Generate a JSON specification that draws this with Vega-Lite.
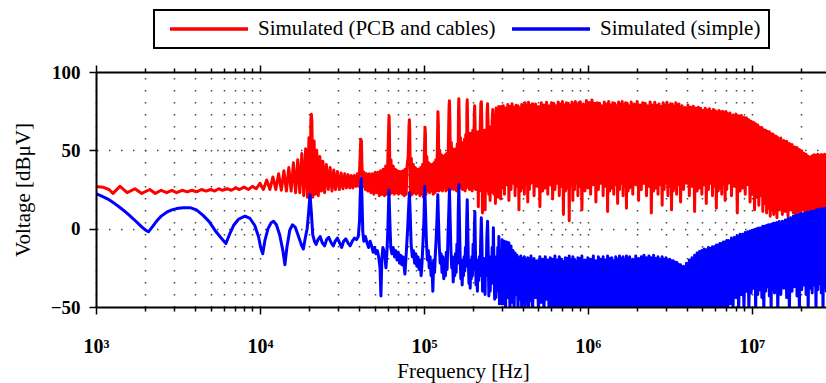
{
"$schema": "https://vega.github.io/schema/vega-lite/v6.json",
"width": 734, "height": 235,
"autosize": {"type": "none"},
"padding": {"left": 96, "top": 72, "right": 0, "bottom": 76},
"background": "white",
"datasets": {
"red": [
{"f":1,"v":27},{"f":1.1,"v":26.5},{"f":1.2,"v":25},{"f":1.27,"v":22.5},{"f":1.4,"v":27},{"f":1.55,"v":23},{"f":1.73,"v":25.5},{"f":1.9,"v":22.5},{"f":2.13,"v":25},{"f":2.3,"v":22.5},{"f":2.5,"v":24.5},{"f":2.7,"v":23},{"f":2.9,"v":24.5},{"f":3.1,"v":23},{"f":3.35,"v":24.5},{"f":3.6,"v":23.5},{"f":3.85,"v":24.5},{"f":4.1,"v":23.5},{"f":4.4,"v":25},{"f":4.7,"v":24},{"f":5,"v":25},{"f":5.3,"v":24},{"f":5.6,"v":25.5},{"f":5.9,"v":24.5},{"f":6.3,"v":25.5},{"f":6.7,"v":24.5},{"f":7.1,"v":26},{"f":7.5,"v":25},{"f":8,"v":26.5},{"f":8.5,"v":25},{"f":9,"v":27},{"f":9.5,"v":25.5},
{"f":10,"v":29},{"f":10.5,"v":25},{"f":11,"v":31},{"f":11.5,"v":25},{"f":12,"v":33},{"f":12.5,"v":25},{"f":13,"v":35},{"f":13.5,"v":24.5},{"f":14,"v":37},{"f":14.5,"v":24},{"f":15,"v":39},{"f":15.5,"v":24},{"f":16,"v":42},{"f":16.5,"v":23},{"f":17,"v":44},{"f":17.5,"v":23},{"f":18,"v":48},{"f":18.5,"v":21},{"f":19,"v":51},{"f":19.5,"v":20},{"f":19.9,"v":58},{"f":20.2,"v":19},{"f":20.45,"v":70},{"f":20.6,"v":73},{"f":20.75,"v":68},{"f":21,"v":20},{"f":21.4,"v":56},{"f":21.8,"v":22},{"f":22.2,"v":50},{"f":22.7,"v":21},{"f":23.2,"v":46},{"f":23.7,"v":24},{"f":24.2,"v":43},{"f":24.8,"v":23},{"f":25.4,"v":41},{"f":26.1,"v":25},{"f":26.8,"v":39},{"f":27.5,"v":24},{"f":28.2,"v":37.5},{"f":28.9,"v":25},{"f":29.7,"v":36.5},{"f":30.5,"v":25},{"f":31.3,"v":35.5},{"f":32.1,"v":25.5},{"f":32.9,"v":35},{"f":33.7,"v":26},{"f":34.5,"v":34.5},{"f":35.3,"v":26},{"f":36.1,"v":34},{"f":36.9,"v":26},{"f":37.7,"v":34},{"f":38.5,"v":27},{"f":39.3,"v":35},{"f":40.1,"v":27},{"f":40.7,"v":42},{"f":41.2,"v":57},{"f":41.6,"v":56},{"f":41.9,"v":40},{"f":42.4,"v":27},{"f":43.1,"v":36},{"f":43.9,"v":25},{"f":44.7,"v":35},
{"f":45.5,"v":24},{"f":46.5,"v":35},{"f":47.5,"v":23},{"f":48.5,"v":35},{"f":49.5,"v":22},{"f":50.5,"v":36},{"f":51.5,"v":23},{"f":52.5,"v":36},{"f":53.5,"v":21},{"f":54.5,"v":37},{"f":55.5,"v":22},{"f":56.5,"v":38},{"f":57.5,"v":21},{"f":58.5,"v":40},{"f":59.5,"v":22},{"f":60.3,"v":46},{"f":61,"v":66},{"f":61.3,"v":72},{"f":61.6,"v":64},{"f":62.2,"v":22},{"f":63,"v":44},{"f":64,"v":23},{"f":65,"v":40},{"f":66,"v":22},{"f":67,"v":38},{"f":68,"v":23},{"f":69,"v":37},{"f":70,"v":22},{"f":71,"v":36.5},{"f":72,"v":23},{"f":73,"v":36.5},{"f":74,"v":22},{"f":75,"v":37},{"f":76,"v":21},{"f":77,"v":38},{"f":78,"v":22},{"f":79,"v":40},{"f":80.2,"v":46},{"f":81.2,"v":66},{"f":81.6,"v":69.5},{"f":82,"v":62},{"f":82.8,"v":21},{"f":83.8,"v":45},{"f":85,"v":22},{"f":86.2,"v":41},{"f":87.4,"v":23},{"f":88.6,"v":39},{"f":89.8,"v":22},{"f":91,"v":38},{"f":92.2,"v":23},{"f":93.4,"v":38},{"f":94.6,"v":21},{"f":95.8,"v":39},{"f":97,"v":22},{"f":98.2,"v":41},{"f":99.4,"v":20},{"f":100.6,"v":47},{"f":101.6,"v":64.7},{"f":102.2,"v":60},{"f":103,"v":22},{"f":104.2,"v":46},{"f":105.6,"v":24},{"f":107,"v":42},{"f":108.4,"v":23},{"f":109.8,"v":41},{"f":111.2,"v":24},{"f":112.6,"v":41},{"f":114,"v":22},{"f":115.4,"v":42},{"f":116.8,"v":23},{"f":118.2,"v":44},{"f":119.6,"v":24},{"f":120.8,"v":52},{"f":121.8,"v":74.7},{"f":122.6,"v":66},{"f":123.6,"v":24},{"f":125,"v":50},{"f":126.6,"v":25},{"f":128.2,"v":47},{"f":129.8,"v":24},{"f":131.4,"v":46},{"f":133,"v":26},{"f":134.6,"v":47},{"f":136.2,"v":24},{"f":137.8,"v":48},{"f":139.4,"v":25},{"f":141,"v":54},{"f":142.4,"v":78},{"f":143.2,"v":81.7},{"f":144.2,"v":68},{"f":145.4,"v":25},{"f":147,"v":55},{"f":148.6,"v":26},{"f":150.2,"v":51},{"f":151.8,"v":25},{"f":153.4,"v":50},{"f":155,"v":27},{"f":156.6,"v":51},{"f":158.2,"v":24},{"f":159.8,"v":54},{"f":161.4,"v":26},{"f":162.6,"v":76},{"f":163.4,"v":83},{"f":164.4,"v":70},{"f":165.6,"v":26},{"f":167.2,"v":58},{"f":168.8,"v":27},{"f":170.4,"v":55},{"f":172,"v":25},{"f":173.6,"v":55},{"f":175.2,"v":27},{"f":176.8,"v":57},{"f":178.4,"v":24},{"f":180,"v":60},{"f":181.8,"v":26},{"f":183,"v":78},{"f":183.8,"v":82.3},{"f":184.8,"v":70},{"f":186.2,"v":27},{"f":188,"v":61},{"f":189.8,"v":25},{"f":191.6,"v":60},{"f":193.4,"v":27},{"f":195.2,"v":61},{"f":197,"v":24},{"f":198.8,"v":63},{"f":200.8,"v":26},{"f":203,"v":74},{"f":204,"v":78.5},{"f":205.2,"v":68},{"f":206.8,"v":25},{"f":208.8,"v":62},{"f":210.8,"v":26},{"f":212.8,"v":61},{"f":214.8,"v":14},{"f":216.8,"v":62},{"f":218.8,"v":24},{"f":220.8,"v":66},{"f":222.6,"v":80},{"f":224.2,"v":81},{"f":225.8,"v":66},{"f":227.6,"v":10},{"f":229.8,"v":63},{"f":232,"v":24},{"f":234.2,"v":62},{"f":236.4,"v":12},{"f":238.6,"v":63},{"f":240.8,"v":24},{"f":242.8,"v":74},{"f":244.6,"v":79.8},{"f":246.4,"v":66},{"f":248.6,"v":22},{"f":251,"v":64},{"f":253.4,"v":18},{"f":255.8,"v":65},{"f":258.2,"v":23},{"f":260.6,"v":68},{"f":263,"v":76},{"f":265.4,"v":70},{"f":268,"v":22},{"f":270.6,"v":70},{"f":273.2,"v":16},{"f":275.8,"v":77},{"f":278.4,"v":24},{"f":281,"v":72},{"f":283.6,"v":20},{"f":286.2,"v":78},{"f":288.8,"v":23},{"f":291.4,"v":74},{"f":294,"v":19},{"f":296.8,"v":78},
{"f":300,"v":26},{"f":305,"v":78.5},{"f":310,"v":22},{"f":315,"v":77},{"f":320,"v":28},{"f":325,"v":79.3},{"f":330,"v":18},{"f":335,"v":78},{"f":340,"v":25},{"f":345,"v":79.7},{"f":350,"v":29},{"f":355,"v":77.5},{"f":360,"v":21},{"f":365,"v":78.8},{"f":370,"v":27},{"f":375,"v":78.5},{"f":380,"v":12},{"f":385,"v":77},{"f":390,"v":24},{"f":395,"v":79.3},{"f":400,"v":26},{"f":405,"v":79},{"f":410,"v":22},{"f":415,"v":80.3},{"f":420,"v":28},{"f":425,"v":78.5},{"f":430,"v":17},{"f":435,"v":80.7},{"f":440,"v":25},{"f":445,"v":79},
{"f":450,"v":29},{"f":460,"v":79.8},{"f":470,"v":21},{"f":480,"v":79.5},{"f":490,"v":27},{"f":500,"v":78},{"f":510,"v":14},{"f":520,"v":80.3},{"f":530,"v":24},{"f":540,"v":79},{"f":550,"v":26},{"f":560,"v":80.7},{"f":570,"v":22},{"f":580,"v":78.5},{"f":590,"v":28},{"f":600,"v":80.3},
{"f":610,"v":19},{"f":620,"v":80},{"f":630,"v":25},{"f":640,"v":78.5},{"f":650,"v":29},{"f":660,"v":80.8},{"f":670,"v":21},{"f":680,"v":79.5},{"f":690,"v":27},{"f":700,"v":81.2},{"f":710,"v":9},{"f":720,"v":79},{"f":730,"v":24},{"f":740,"v":80.3},{"f":750,"v":26},{"f":760,"v":80},{"f":770,"v":5},{"f":780,"v":78.5},{"f":790,"v":28},{"f":800,"v":80.8},{"f":810,"v":18},{"f":820,"v":79.5},{"f":830,"v":25},{"f":840,"v":81.2},{"f":850,"v":29},{"f":860,"v":79},{"f":870,"v":21},{"f":880,"v":80.3},{"f":890,"v":27},{"f":900,"v":81},
{"f":920,"v":12},{"f":940,"v":79.5},{"f":960,"v":24},{"f":980,"v":81.8},{"f":1000,"v":26},{"f":1020,"v":80.5},{"f":1040,"v":22},{"f":1060,"v":82.2},{"f":1080,"v":28},{"f":1100,"v":80},{"f":1120,"v":17},{"f":1140,"v":80.3},{"f":1160,"v":25},{"f":1180,"v":80},{"f":1200,"v":29},
{"f":1220,"v":78.5},{"f":1240,"v":21},{"f":1260,"v":80.8},{"f":1280,"v":27},{"f":1300,"v":79.5},{"f":1320,"v":11},{"f":1340,"v":81.2},{"f":1360,"v":24},{"f":1380,"v":79},{"f":1400,"v":26},{"f":1420,"v":80.3},{"f":1440,"v":22},{"f":1460,"v":80},{"f":1480,"v":28},{"f":1500,"v":78.5},{"f":1520,"v":16},{"f":1540,"v":80.8},{"f":1560,"v":25},{"f":1580,"v":79.5},{"f":1600,"v":29},{"f":1620,"v":81.2},{"f":1640,"v":21},{"f":1660,"v":79},{"f":1680,"v":27},{"f":1700,"v":80.3},{"f":1720,"v":13},{"f":1740,"v":80},{"f":1760,"v":24},{"f":1780,"v":78.5},{"f":1800,"v":26},
{"f":1840,"v":80.8},{"f":1880,"v":22},{"f":1920,"v":79.5},{"f":1960,"v":28},{"f":2000,"v":81.2},{"f":2040,"v":18},{"f":2080,"v":79},{"f":2120,"v":25},{"f":2160,"v":80.3},{"f":2200,"v":29},{"f":2240,"v":80},{"f":2280,"v":21},{"f":2320,"v":78.5},{"f":2360,"v":27},{"f":2400,"v":80.8},
{"f":2440,"v":10},{"f":2480,"v":79},{"f":2520,"v":24},{"f":2560,"v":80.7},{"f":2600,"v":26},{"f":2640,"v":78.8},{"f":2680,"v":22},{"f":2720,"v":79.5},{"f":2760,"v":28},{"f":2800,"v":78},{"f":2840,"v":15},{"f":2880,"v":80.3},{"f":2920,"v":25},{"f":2960,"v":79},{"f":3000,"v":29},{"f":3040,"v":80.7},{"f":3080,"v":21},{"f":3120,"v":78.5},{"f":3160,"v":27},{"f":3200,"v":79.8},{"f":3240,"v":12},{"f":3280,"v":79.5},{"f":3320,"v":24},{"f":3360,"v":78},{"f":3400,"v":26},{"f":3440,"v":80.3},{"f":3480,"v":22},{"f":3520,"v":79},{"f":3560,"v":28},{"f":3600,"v":79.5},
{"f":3680,"v":17},{"f":3760,"v":78.5},{"f":3840,"v":25},{"f":3920,"v":77.3},{"f":4000,"v":29},{"f":4080,"v":78.8},{"f":4160,"v":21},{"f":4240,"v":77.5},{"f":4320,"v":27},{"f":4400,"v":78.2},{"f":4480,"v":11},{"f":4560,"v":77},{"f":4640,"v":24},{"f":4720,"v":77.5},{"f":4800,"v":26},
{"f":4880,"v":76.8},{"f":4960,"v":22},{"f":5040,"v":75.5},{"f":5120,"v":28},{"f":5200,"v":76.8},{"f":5280,"v":16},{"f":5360,"v":75.7},{"f":5440,"v":25},{"f":5520,"v":76.5},{"f":5600,"v":29},{"f":5680,"v":75},{"f":5760,"v":21},{"f":5840,"v":76},{"f":5920,"v":27},{"f":6000,"v":75.3},{"f":6080,"v":13},{"f":6160,"v":74.5},{"f":6240,"v":24},{"f":6320,"v":75.5},{"f":6400,"v":26},{"f":6480,"v":74.3},{"f":6560,"v":22},{"f":6640,"v":75},{"f":6720,"v":28},{"f":6800,"v":74},{"f":6880,"v":18},{"f":6960,"v":74.8},{"f":7040,"v":25},{"f":7120,"v":73.5},{"f":7200,"v":29},
{"f":7360,"v":73.8},{"f":7520,"v":21},{"f":7680,"v":72.5},{"f":7840,"v":27},{"f":8000,"v":73.2},{"f":8160,"v":10},{"f":8320,"v":72},{"f":8480,"v":24},{"f":8640,"v":72.3},{"f":8800,"v":26},{"f":8960,"v":71},{"f":9120,"v":22},{"f":9280,"v":70.8},{"f":9440,"v":28},{"f":9600,"v":69.5},
{"f":9760,"v":17},{"f":9920,"v":68.5},{"f":10080,"v":22},{"f":10240,"v":68},{"f":10400,"v":12},{"f":10560,"v":67},{"f":10720,"v":20},{"f":10880,"v":66.2},{"f":11040,"v":15},{"f":11200,"v":64.8},{"f":11360,"v":21},{"f":11520,"v":64.5},{"f":11680,"v":11},{"f":11840,"v":63.2},{"f":12000,"v":16},{"f":12160,"v":62.8},{"f":12320,"v":10},{"f":12480,"v":62},{"f":12640,"v":13},{"f":12800,"v":61.8},{"f":12960,"v":8},{"f":13120,"v":60.6},{"f":13280,"v":12},{"f":13440,"v":60.5},{"f":13600,"v":9},{"f":13760,"v":59.3},{"f":13920,"v":11},{"f":14080,"v":59},{"f":14240,"v":7},{"f":14400,"v":58.2},
{"f":14720,"v":12},{"f":15040,"v":57.8},{"f":15360,"v":9},{"f":15680,"v":56.2},{"f":16000,"v":11},{"f":16320,"v":55.8},{"f":16640,"v":8},{"f":16960,"v":54.3},{"f":17280,"v":12},{"f":17600,"v":53.8},{"f":17920,"v":10},{"f":18240,"v":52.2},{"f":18560,"v":7},{"f":18880,"v":51.8},{"f":19200,"v":11},
{"f":19520,"v":50.5},{"f":19840,"v":9},{"f":20160,"v":49.8},{"f":20480,"v":12},{"f":20800,"v":48.2},{"f":21120,"v":8},{"f":21440,"v":47.5},{"f":21760,"v":11},{"f":22080,"v":46.3},{"f":22400,"v":9},{"f":22720,"v":45.8},{"f":23040,"v":12},{"f":23360,"v":46.5},{"f":23680,"v":8},{"f":24000,"v":47.2},{"f":24320,"v":10},{"f":24640,"v":46.8},{"f":24960,"v":12},{"f":25280,"v":47.5},{"f":25600,"v":9},{"f":25920,"v":46.5},{"f":26240,"v":11},{"f":26560,"v":47.3},{"f":26880,"v":8},{"f":27200,"v":46.8},{"f":27520,"v":12},{"f":27840,"v":47.5},{"f":28160,"v":9},{"f":28480,"v":46.5},{"f":28800,"v":11},{"f":29440,"v":47},{"f":30000,"v":10}
],
"blue": [
{"f":1,"v":22.3},{"f":1.1,"v":20.5},{"f":1.2,"v":18.5},{"f":1.3,"v":16},{"f":1.4,"v":13.5},{"f":1.5,"v":11},{"f":1.6,"v":8.5},{"f":1.7,"v":6},{"f":1.8,"v":3.5},{"f":1.9,"v":1.2},{"f":2,"v":-0.8},{"f":2.09,"v":-2},{"f":2.2,"v":1},{"f":2.35,"v":5},{"f":2.5,"v":8},{"f":2.7,"v":10.5},{"f":2.9,"v":12},{"f":3.1,"v":12.8},{"f":3.4,"v":13.3},{"f":3.75,"v":13.4},{"f":4.1,"v":12},{"f":4.5,"v":8.5},{"f":4.9,"v":4.5},{"f":5.4,"v":-2},{"f":5.8,"v":-6},{"f":6.2,"v":-9.5},{"f":6.5,"v":-4},{"f":6.9,"v":2},{"f":7.4,"v":6},{"f":8.1,"v":8},{"f":8.7,"v":6.5},{"f":9.3,"v":2},{"f":9.8,"v":-5},{"f":10.1,"v":-12},{"f":10.4,"v":-16},{"f":10.7,"v":-8},{"f":11.2,"v":0},{"f":11.7,"v":3.8},{"f":12.1,"v":4.7},{"f":12.6,"v":2.5},{"f":13.2,"v":-4},{"f":13.8,"v":-14},{"f":14.2,"v":-23},{"f":14.6,"v":-12},{"f":15.2,"v":-1},{"f":15.8,"v":2.5},{"f":16.4,"v":1},{"f":17.2,"v":-5},{"f":18,"v":-11},{"f":18.4,"v":-13},{"f":18.9,"v":-6},{"f":19.4,"v":0},{"f":19.8,"v":10},{"f":20.2,"v":21.7},{"f":20.6,"v":10},{"f":21,"v":-4},{"f":21.5,"v":-8},{"f":22,"v":-10},{"f":22.6,"v":-7},{"f":23.3,"v":-5},{"f":24,"v":-9},{"f":24.8,"v":-11},{"f":25.5,"v":-7},{"f":26.3,"v":-5.5},{"f":27.2,"v":-9},{"f":28,"v":-11},{"f":28.8,"v":-8},{"f":29.7,"v":-6},{"f":30.6,"v":-9},{"f":31.5,"v":-12},{"f":32.4,"v":-8},{"f":33.4,"v":-6.5},{"f":34.4,"v":-9},{"f":35.5,"v":-11},{"f":36.6,"v":-8},{"f":37.7,"v":-6},{"f":38.8,"v":-7},{"f":39.8,"v":-5},{"f":40.5,"v":5},{"f":41,"v":25},{"f":41.5,"v":32},{"f":41.9,"v":20},{"f":42.4,"v":-2},{"f":43,"v":-8},{"f":44,"v":-5},{"f":45,"v":-9},{"f":46,"v":-12},{"f":47,"v":-8},{"f":48,"v":-11},{"f":49,"v":-15},{"f":50,"v":-12},{"f":51,"v":-16},{"f":52,"v":-14},{"f":53,"v":-18},{"f":54,"v":-25},{"f":54.7,"v":-43},{"f":55.4,"v":-20},{"f":56.2,"v":-12},{"f":57,"v":-14},{"f":57.8,"v":-18},{"f":58.7,"v":-25},{"f":59.5,"v":-15},{"f":60.3,"v":0},{"f":61.2,"v":24.5},{"f":62,"v":5},{"f":62.8,"v":-12},{"f":63.8,"v":-16},{"f":65,"v":-12},{"f":66.2,"v":-18},{"f":67.4,"v":-14},{"f":68.6,"v":-20},{"f":69.8,"v":-15},{"f":71,"v":-22},{"f":72.2,"v":-17},{"f":73.4,"v":-23},{"f":74.6,"v":-18},{"f":75.8,"v":-24},{"f":76.6,"v":-29},{"f":77.6,"v":-20},{"f":78.6,"v":-10},{"f":79.6,"v":0},{"f":80.6,"v":12},{"f":81.6,"v":23},{"f":82.6,"v":8},{"f":83.6,"v":-10},{"f":85,"v":-18},{"f":86.4,"v":-14},{"f":87.8,"v":-22},{"f":89.2,"v":-16},{"f":90.6,"v":-24},{"f":92,"v":-18},{"f":93.4,"v":-26},{"f":94.8,"v":-20},{"f":96.2,"v":-30},{"f":97.4,"v":-22},{"f":98.6,"v":-10},{"f":100,"v":5},{"f":101.2,"v":27},{"f":102.4,"v":10},{"f":103.6,"v":-8},{"f":105,"v":-20},{"f":106.4,"v":-14},{"f":107.8,"v":-25},{"f":109.2,"v":-18},{"f":110.6,"v":-30},{"f":112,"v":-22},{"f":113.4,"v":-40},{"f":114.8,"v":-20},{"f":116.2,"v":-28},{"f":117.6,"v":-15},{"f":119,"v":-5},{"f":120.4,"v":8},{"f":121.6,"v":21.7},{"f":122.8,"v":5},{"f":124.2,"v":-12},{"f":125.8,"v":-22},{"f":127.4,"v":-16},{"f":129,"v":-28},{"f":130.6,"v":-18},{"f":132.2,"v":-32},{"f":133.8,"v":-20},{"f":135.4,"v":-30},{"f":137,"v":-15},{"f":138.6,"v":-26},{"f":140.2,"v":-5},{"f":141.8,"v":10},{"f":143.2,"v":25},{"f":144.6,"v":6},{"f":146.2,"v":-14},{"f":147.8,"v":-25},{"f":149.4,"v":-18},{"f":151,"v":-34},{"f":152.6,"v":-20},{"f":154.2,"v":-30},{"f":155.8,"v":-16},{"f":157.4,"v":-28},{"f":159,"v":-10},{"f":160.6,"v":-22},{"f":162,"v":10},{"f":163.4,"v":28},{"f":164.8,"v":5},{"f":166.4,"v":-18},{"f":168,"v":-32},{"f":169.6,"v":-20},{"f":171.2,"v":-36},{"f":172.8,"v":-22},{"f":174.4,"v":-30},{"f":176,"v":-18},{"f":177.6,"v":-27},{"f":179.2,"v":-12},{"f":180.8,"v":-24},{"f":182.4,"v":5},{"f":183.8,"v":18.5},{"f":185.2,"v":0},{"f":186.8,"v":-22},{"f":188.4,"v":-35},{"f":190,"v":-20},{"f":191.6,"v":-38},{"f":193.2,"v":-22},{"f":194.8,"v":-32},{"f":196.4,"v":-18},{"f":198,"v":-30},{"f":199.6,"v":-10},{"f":201.6,"v":-26},{"f":203.2,"v":0},{"f":204.6,"v":11},{"f":206,"v":-10},{"f":208,"v":-36},{"f":210,"v":-22},{"f":212,"v":-40},{"f":214,"v":-20},{"f":216,"v":-33},{"f":218,"v":-18},{"f":220,"v":-30},{"f":222,"v":-8},{"f":224,"v":7},{"f":226,"v":-10},{"f":228,"v":-40},{"f":230,"v":-22},{"f":232,"v":-38},{"f":234,"v":-19},{"f":236,"v":-42},{"f":238,"v":-20},{"f":240,"v":-30},{"f":242,"v":-6},{"f":244.6,"v":4.7},{"f":246.6,"v":-12},{"f":249,"v":-43},{"f":251.4,"v":-22},{"f":253.8,"v":-40},{"f":256.2,"v":-18},{"f":258.6,"v":-35},{"f":261,"v":-12},{"f":263.4,"v":-30},{"f":265.4,"v":0.6},{"f":267.8,"v":-25},{"f":270.2,"v":-45},{"f":272.6,"v":-20},{"f":275,"v":-44},{"f":277.4,"v":-18},{"f":279.8,"v":-38},{"f":282.2,"v":-12},{"f":284.6,"v":-40},{"f":286.6,"v":-5},{"f":289,"v":-48},{"f":291.4,"v":-16},{"f":293.8,"v":-45},{"f":296.2,"v":-14},{"f":298.6,"v":-48},
{"f":300,"v":-7},{"f":305,"v":-48},{"f":310,"v":-8},{"f":315,"v":-52},{"f":320,"v":-8.5},{"f":325,"v":-44},{"f":330,"v":-9},{"f":335,"v":-53},{"f":340,"v":-11},{"f":345,"v":-47},{"f":350,"v":-14},{"f":355,"v":-53},{"f":360,"v":-15.5},{"f":365,"v":-42},{"f":370,"v":-17},{"f":375,"v":-53},{"f":380,"v":-18.5},{"f":385,"v":-45},{"f":390,"v":-17.5},{"f":395,"v":-53},{"f":400,"v":-19},{"f":405,"v":-48},{"f":410,"v":-18},{"f":415,"v":-53},{"f":420,"v":-20},{"f":425,"v":-43},{"f":430,"v":-18.5},{"f":435,"v":-53},{"f":440,"v":-19.5},{"f":445,"v":-46},
{"f":450,"v":-17.5},{"f":460,"v":-53},{"f":470,"v":-19},{"f":480,"v":-44},{"f":490,"v":-20.5},{"f":500,"v":-53},{"f":510,"v":-18},{"f":520,"v":-47},{"f":530,"v":-19.5},{"f":540,"v":-53},{"f":550,"v":-18},{"f":560,"v":-45},{"f":570,"v":-20},{"f":580,"v":-53},{"f":590,"v":-18.5},{"f":600,"v":-49},
{"f":610,"v":-19.5},{"f":620,"v":-53},{"f":630,"v":-17.5},{"f":640,"v":-53},{"f":650,"v":-20},{"f":660,"v":-53},{"f":670,"v":-18},{"f":680,"v":-53},{"f":690,"v":-19.5},{"f":700,"v":-53},{"f":710,"v":-21},{"f":720,"v":-53},{"f":730,"v":-18.5},{"f":740,"v":-53},{"f":750,"v":-19},{"f":760,"v":-53},{"f":770,"v":-17.5},{"f":780,"v":-53},{"f":790,"v":-20},{"f":800,"v":-53},{"f":810,"v":-18},{"f":820,"v":-53},{"f":830,"v":-19.5},{"f":840,"v":-53},{"f":850,"v":-21},{"f":860,"v":-53},{"f":870,"v":-18.5},{"f":880,"v":-53},{"f":890,"v":-19},{"f":900,"v":-53},
{"f":920,"v":-17.5},{"f":940,"v":-53},{"f":960,"v":-20},{"f":980,"v":-53},{"f":1000,"v":-18.5},{"f":1020,"v":-53},{"f":1040,"v":-19.5},{"f":1060,"v":-53},{"f":1080,"v":-17.5},{"f":1100,"v":-53},{"f":1120,"v":-20.5},{"f":1140,"v":-53},{"f":1160,"v":-18},{"f":1180,"v":-53},{"f":1200,"v":-19.5},
{"f":1220,"v":-53},{"f":1240,"v":-18},{"f":1260,"v":-53},{"f":1280,"v":-20},{"f":1300,"v":-53},{"f":1320,"v":-17.5},{"f":1340,"v":-53},{"f":1360,"v":-19},{"f":1380,"v":-53},{"f":1400,"v":-18.5},{"f":1420,"v":-53},{"f":1440,"v":-20.5},{"f":1460,"v":-53},{"f":1480,"v":-18},{"f":1500,"v":-53},{"f":1520,"v":-19.5},{"f":1540,"v":-53},{"f":1560,"v":-17.5},{"f":1580,"v":-53},{"f":1600,"v":-19},{"f":1620,"v":-53},{"f":1640,"v":-18},{"f":1660,"v":-53},{"f":1680,"v":-20},{"f":1700,"v":-53},{"f":1720,"v":-17.5},{"f":1740,"v":-53},{"f":1760,"v":-19},{"f":1780,"v":-53},{"f":1800,"v":-18},
{"f":1840,"v":-53},{"f":1880,"v":-19.5},{"f":1920,"v":-53},{"f":1960,"v":-17.5},{"f":2000,"v":-53},{"f":2040,"v":-19},{"f":2080,"v":-53},{"f":2120,"v":-18},{"f":2160,"v":-53},{"f":2200,"v":-17},{"f":2240,"v":-53},{"f":2280,"v":-18.5},{"f":2320,"v":-53},{"f":2360,"v":-17.5},{"f":2400,"v":-53},
{"f":2440,"v":-18.5},{"f":2480,"v":-53},{"f":2520,"v":-17},{"f":2560,"v":-53},{"f":2600,"v":-19},{"f":2640,"v":-53},{"f":2680,"v":-18},{"f":2720,"v":-53},{"f":2760,"v":-19.5},{"f":2800,"v":-53},{"f":2840,"v":-18},{"f":2880,"v":-53},{"f":2920,"v":-19.5},{"f":2960,"v":-53},{"f":3000,"v":-18.5},{"f":3040,"v":-53},{"f":3080,"v":-20},{"f":3120,"v":-53},{"f":3160,"v":-19.5},{"f":3200,"v":-53},{"f":3240,"v":-20.5},{"f":3280,"v":-53},{"f":3320,"v":-20.5},{"f":3360,"v":-53},{"f":3400,"v":-21.5},{"f":3440,"v":-53},{"f":3480,"v":-21.5},{"f":3520,"v":-53},{"f":3560,"v":-22.5},{"f":3600,"v":-53},
{"f":3680,"v":-23},{"f":3760,"v":-53},{"f":3840,"v":-24},{"f":3920,"v":-53},{"f":4000,"v":-22},{"f":4080,"v":-53},{"f":4160,"v":-20},{"f":4240,"v":-53},{"f":4320,"v":-18.5},{"f":4400,"v":-53},{"f":4480,"v":-17},{"f":4560,"v":-53},{"f":4640,"v":-15.5},{"f":4720,"v":-53},{"f":4800,"v":-14.5},
{"f":4880,"v":-53},{"f":4960,"v":-14},{"f":5040,"v":-53},{"f":5120,"v":-13},{"f":5200,"v":-53},{"f":5280,"v":-13.5},{"f":5360,"v":-53},{"f":5440,"v":-12},{"f":5520,"v":-53},{"f":5600,"v":-12.5},{"f":5680,"v":-53},{"f":5760,"v":-11.5},{"f":5840,"v":-53},{"f":5920,"v":-11.5},{"f":6000,"v":-53},{"f":6080,"v":-10.5},{"f":6160,"v":-53},{"f":6240,"v":-10.5},{"f":6320,"v":-53},{"f":6400,"v":-9.5},{"f":6480,"v":-53},{"f":6560,"v":-9.5},{"f":6640,"v":-53},{"f":6720,"v":-8.5},{"f":6800,"v":-53},{"f":6880,"v":-8.5},{"f":6960,"v":-53},{"f":7040,"v":-7.5},{"f":7120,"v":-53},{"f":7200,"v":-7.5},
{"f":7360,"v":-48},{"f":7520,"v":-6},{"f":7680,"v":-53},{"f":7840,"v":-5.5},{"f":8000,"v":-44},{"f":8160,"v":-4.5},{"f":8320,"v":-53},{"f":8480,"v":-3.5},{"f":8640,"v":-42},{"f":8800,"v":-3.5},{"f":8960,"v":-53},{"f":9120,"v":-2.5},{"f":9280,"v":-40},{"f":9440,"v":-2},{"f":9600,"v":-53},
{"f":9760,"v":-1.5},{"f":9920,"v":-41},{"f":10080,"v":-1},{"f":10240,"v":-38},{"f":10400,"v":-0.5},{"f":10560,"v":-53},{"f":10720,"v":0},{"f":10880,"v":-42},{"f":11040,"v":0.5},{"f":11200,"v":-39},{"f":11360,"v":0.5},{"f":11520,"v":-44},{"f":11680,"v":1.5},{"f":11840,"v":-53},{"f":12000,"v":1.5},{"f":12160,"v":-40},{"f":12320,"v":2},{"f":12480,"v":-37},{"f":12640,"v":2.5},{"f":12800,"v":-43},{"f":12960,"v":2.5},{"f":13120,"v":-53},{"f":13280,"v":3},{"f":13440,"v":-39},{"f":13600,"v":3.5},{"f":13760,"v":-41},{"f":13920,"v":3.5},{"f":14080,"v":-38},{"f":14240,"v":4},{"f":14400,"v":-53},
{"f":14720,"v":4.5},{"f":15040,"v":-42},{"f":15360,"v":4.7},{"f":15680,"v":-38},{"f":16000,"v":5.5},{"f":16320,"v":-44},{"f":16640,"v":6.5},{"f":16960,"v":-53},{"f":17280,"v":7},{"f":17600,"v":-40},{"f":17920,"v":8},{"f":18240,"v":-37},{"f":18560,"v":8.5},{"f":18880,"v":-43},{"f":19200,"v":9},
{"f":19520,"v":-53},{"f":19840,"v":9.5},{"f":20160,"v":-39},{"f":20480,"v":9.5},{"f":20800,"v":-36},{"f":21120,"v":10},{"f":21440,"v":-42},{"f":21760,"v":10.5},{"f":22080,"v":-53},{"f":22400,"v":10.5},{"f":22720,"v":-38},{"f":23040,"v":11},{"f":23360,"v":-41},{"f":23680,"v":11},{"f":24000,"v":-36},{"f":24320,"v":11.5},{"f":24640,"v":-53},{"f":24960,"v":12},{"f":25280,"v":-39},{"f":25600,"v":12},{"f":25920,"v":-35},{"f":26240,"v":12.5},{"f":26560,"v":-41},{"f":26880,"v":12.5},{"f":27200,"v":-53},{"f":27520,"v":12.5},{"f":27840,"v":-37},{"f":28160,"v":13},{"f":28480,"v":-40},{"f":28800,"v":13},{"f":29440,"v":-36},{"f":30000,"v":13}
]
},
"layer": [
{
"data": {"name": "red"},
"mark": {"type": "line", "clip": true, "strokeWidth": 3, "strokeJoin": "round"},
"encoding": {
"x": {"field": "f", "type": "quantitative", "scale": {"type": "log", "domain": [1, 30000], "nice": false},
 "axis": {"orient": "bottom", "title": "Frequency [Hz]", "values": [1,2,3,4,5,6,7,8,9,10,20,30,40,50,60,70,80,90,100,200,300,400,500,600,700,800,900,1000,2000,3000,4000,5000,6000,7000,8000,9000,10000,20000,30000],
  "labelExpr": "abs(log(datum.value)/LN10 - round(log(datum.value)/LN10)) < 0.01 ? '10' + ['³','⁴','⁵','⁶','⁷'][round(log(datum.value)/LN10)] : ''",
  "tickSize": {"condition": {"test": "abs(log(datum.value)/LN10 - round(log(datum.value)/LN10)) < 0.01", "value": 7}, "value": 4},
  "grid": false, "zindex": 1, "labelPadding": 22, "labelFontSize": 20, "titlePadding": 4, "labelOverlap": false, "labelFlush": false, "labelBound": false}},
"y": {"field": "v", "type": "quantitative", "scale": {"domain": [-50, 100], "nice": false, "zero": false},
 "axis": {"orient": "left", "title": "Voltage [dBμV]", "values": [-50, 0, 50, 100], "tickSize": 7, "grid": false, "zindex": 1, "labelPadding": 9, "titlePadding": 17}},
"color": {"datum": "Simulated (PCB and cables)", "type": "nominal",
 "scale": {"domain": ["Simulated (PCB and cables)", "Simulated (simple)"], "range": ["#ff0000", "#0000ff"]},
 "legend": {"orient": "none", "legendX": 58, "legendY": -62, "direction": "horizontal", "title": null}}
}
},
{
"data": {"name": "blue"},
"mark": {"type": "line", "clip": true, "strokeWidth": 3, "strokeJoin": "round"},
"encoding": {
"x": {"field": "f", "type": "quantitative", "scale": {"type": "log", "domain": [1, 30000], "nice": false},
 "axis": {"orient": "top", "title": null, "labels": false, "values": [1,2,3,4,5,6,7,8,9,10,20,30,40,50,60,70,80,90,100,200,300,400,500,600,700,800,900,1000,2000,3000,4000,5000,6000,7000,8000,9000,10000,20000,30000],
  "tickSize": {"condition": {"test": "abs(log(datum.value)/LN10 - round(log(datum.value)/LN10)) < 0.01", "value": 7}, "value": 4},
  "grid": true, "zindex": 0}},
"y": {"field": "v", "type": "quantitative", "scale": {"domain": [-50, 100], "nice": false, "zero": false},
 "axis": {"orient": "right", "title": null, "labels": false, "ticks": false, "domain": false, "values": [0, 50], "grid": true, "zindex": 0}},
"color": {"datum": "Simulated (simple)", "type": "nominal"}
}
}
],
"resolve": {"axis": {"x": "independent", "y": "independent"}},
"config": {
"view": {"stroke": null},
"axis": {"labelFont": "Liberation Serif", "labelFontSize": 19, "labelFontWeight": "bold", "labelColor": "#000",
 "titleFont": "Liberation Serif", "titleFontSize": 21, "titleFontWeight": "normal", "titleColor": "#000",
 "domainColor": "#000", "domainWidth": 2, "tickColor": "#000", "tickWidth": 1.5,
 "gridColor": "#444", "gridDash": [1.5, 10.5], "gridWidth": 1.5, "gridOpacity": 1},
"legend": {"labelFont": "Liberation Serif", "labelFontSize": 21, "labelColor": "#000", "labelLimit": 400,
 "symbolType": "stroke", "symbolSize": 6084, "symbolStrokeWidth": 3.5, "symbolOffset": 6, "labelOffset": 8,
 "columnPadding": 8, "padding": 8, "clipHeight": 22, "strokeColor": "#000", "strokeWidth": 2}
}
}
